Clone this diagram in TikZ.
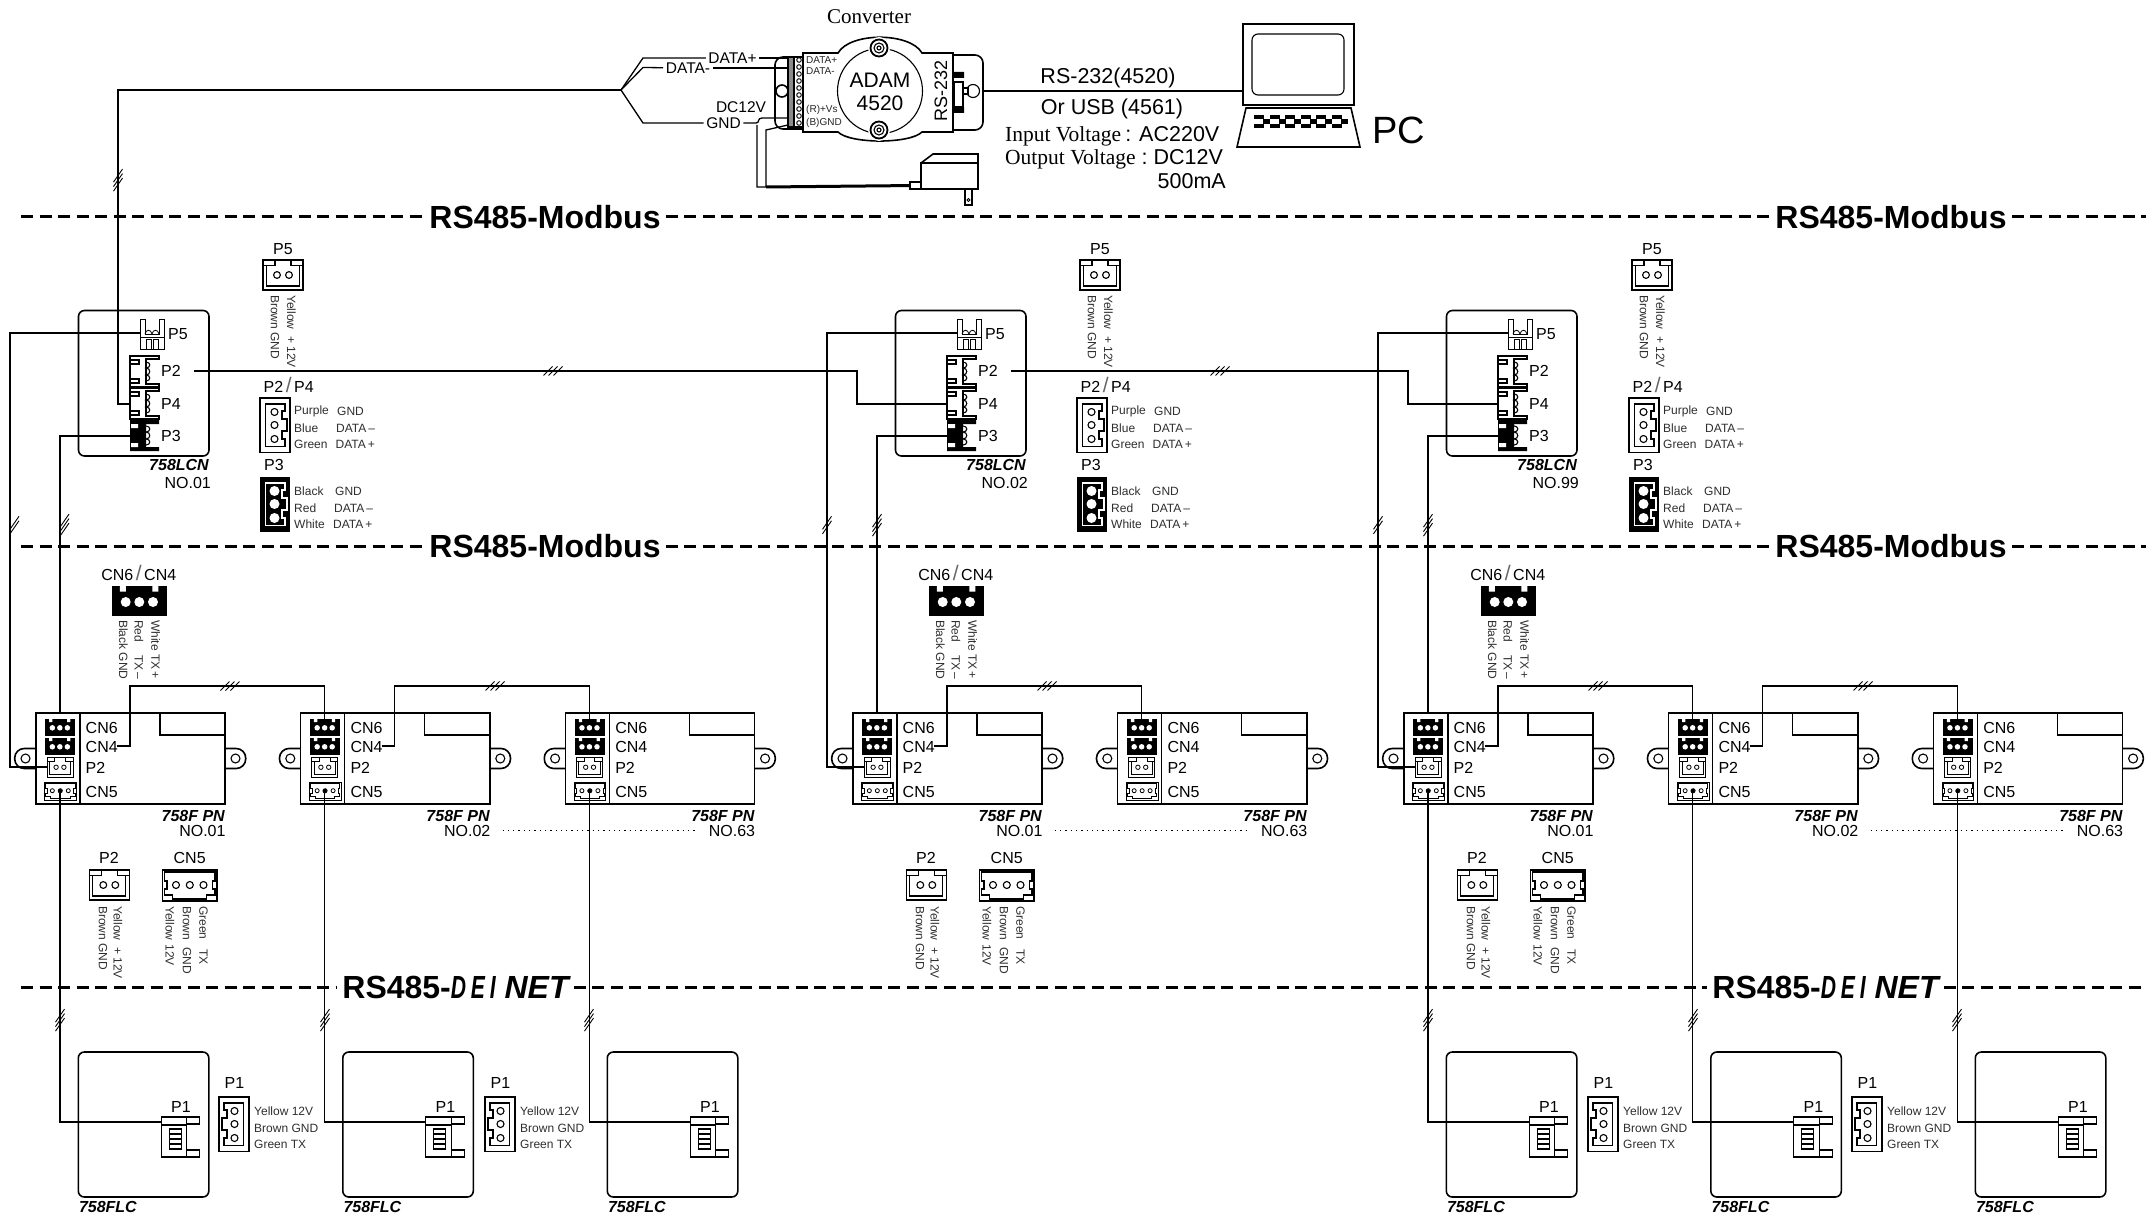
\documentclass[tikz,border=0pt]{standalone}
\usepackage{fontspec}
\setmainfont{Liberation Sans}
\newfontfamily\serfont{Liberation Serif}
\newfontfamily\deifont{Liberation Sans}[FakeStretch=0.66,LetterSpace=15]

\newcommand{\fsize}[1]{\fontsize{#1}{#1}\selectfont}
\newcommand{\thinslash}{\hspace{2.5pt}\textcolor{black!60}{\fsize{21}/}\hspace{2.5pt}}
% slashes across a cable
\newcommand{\tickv}[3]{\foreach \i in {1,...,#3}
  \draw[tickline] ({#1-4.5},{#2+6.5+(\i-1)*4.5-(#3-1)*2.2}) -- ++(9,-13);}
\newcommand{\tickh}[3]{\foreach \i in {1,...,#3}
  \draw[tickline] ({#1-4.5+(\i-1)*5-(#3-1)*2.5},{#2+4.5}) -- ++(9,-9);}

\tikzset{
  wire/.style={line width=1.3pt},
  tickline/.style={line width=.9pt},
  boxline/.style={line width=1.6pt},
  plugline/.style={line width=1.1pt},
  fineplug/.style={plugline/.style={line width=.8pt}},
  busline/.style={line width=3pt,dash pattern=on 12pt off 6.5pt},
  lbl/.style={inner sep=0pt,font=\fsize{16}},
  lblb/.style={inner sep=0pt,font=\fsize{16}\bfseries\itshape},
  leg/.style={inner sep=0pt,font=\fsize{12},text=black!82,anchor=west},
  legv/.style={inner sep=0pt,font=\fsize{12},text=black!82,anchor=west,rotate=-90},
  wirelbl/.style={inner sep=2.5pt,font=\fsize{15.5}},
  conv/.style={inner sep=0pt,font=\fsize{10},text=black!85,anchor=west},
  big/.style={inner sep=0pt,font=\fsize{21.5}},
  title/.style={inner sep=5pt,font=\fsize{32}\bfseries},
  % connectors
  pics/blackplug/.style={code={
    \fill (0,0) rectangle (54.5,30);
    \fill[white] (7.6,0) rectangle (13.6,5.5) (40,0) rectangle (46,5.5);
    \foreach \cx in {13.4,27,40.7} \fill[white] (\cx,16) circle (5pt);
  }},
  pics/plugtwo/.style={code={
    \draw[plugline,fill=white] (0,0) rectangle (40,30);
    \draw[plugline] (0,5.6) -- (12,5.6) -- (12,0) (28,0) -- (28,5.6) -- (40,5.6);
    \draw[plugline] (3.5,5.6) -- (3.5,26) -- (36.5,26) -- (36.5,5.6);
    \foreach \cx in {14,26} \draw[plugline] (\cx,15) circle (3.4pt);
  }},
  pics/plugwide/.style={code={
    \draw[plugline,fill=white] (0,0) rectangle (54.5,31);
    \draw[plugline] (2,2) -- (52.5,2) -- (52.5,11) -- (50,11) -- (50,19) -- (52.5,19) -- (52.5,25)
      -- (44,25) -- (44,29) -- (10,29) -- (10,25) -- (2,25) -- (2,19) -- (4.5,19) -- (4.5,11) -- (2,11) -- cycle;
    \foreach \cx in {13.5,27.3,41} \draw[plugline] (\cx,15) circle (3.5pt);
  }},
  pics/plugthree/.style={code={
    \draw[plugline,fill=white] (0,0) rectangle (30,54.5);
    \draw[plugline] (5.5,6) -- (25,6) -- (25,13) -- (22,13) -- (22,21) -- (27,21) -- (27,33) -- (22,33)
      -- (22,41) -- (25,41) -- (25,48.5) -- (5.5,48.5) -- cycle;
    \foreach \cy in {14,27,41} \draw[plugline] (14.5,\cy) circle (3.5pt);
  }},
  pics/plugthreeb/.style={code={
    \fill (0,0) rectangle (30,54.5);
    \draw[plugline,white] (5.5,6) -- (25,6) -- (25,13) -- (22,13) -- (22,21) -- (27,21) -- (27,33) -- (22,33)
      -- (22,41) -- (25,41) -- (25,48.5) -- (5.5,48.5) -- cycle;
    \foreach \cy in {14,27,41} \fill[white] (14.5,\cy) circle (5pt);
  }},
  pics/sideplug/.style={code={
    \draw[plugline,fill=white] (0,0) -- (29,0) -- (29,3) -- (16,3) -- (16,28) -- (29,28) -- (29,31) -- (0,31) -- cycle;
    \draw[plugline] (0,4) rectangle (9,8) (0,23) rectangle (9,27);
    \draw[plugline] (16,6) .. controls (21,6) and (21,12) .. (16,12) .. controls (21,12) and (21,19) .. (16,19)
      .. controls (21,19) and (21,25) .. (16,25);
  }},
  pics/sideplugb/.style={code={
    \fill (0,0) -- (29,0) -- (29,4) -- (16,4) -- (16,27) -- (29,27) -- (29,31) -- (0,31) -- cycle;
    \fill[white] (1,4) rectangle (8,8) (1,23) rectangle (8,27);
    \draw[plugline] (16,6) .. controls (21,6) and (21,12) .. (16,12) .. controls (21,12) and (21,19) .. (16,19)
      .. controls (21,19) and (21,25) .. (16,25);
  }},
  pics/topplug/.style={code={
    \draw[plugline,fill=white] (0,0) -- (5,0) -- (5,15) -- (19,15) -- (19,0) -- (24,0) -- (24,30) -- (0,30) -- cycle;
    \draw[plugline] (0,18) -- (24,18) (6,30) -- (6,20) -- (11,20) -- (11,30) (13,30) -- (13,20) -- (18,20) -- (18,30);
    \draw[plugline] (5,15) .. controls (6,10) and (11,10) .. (12,15) .. controls (13,10) and (18,10) .. (19,15);
  }},
  % controller with its four ports, #1 is its number
  pics/lcnbox/.style={code={
    \draw[boxline,rounded corners=6pt] (0,0) rectangle (130.5,145.5);
    \pic[fineplug] at (61.5,8.5) {topplug};
    \pic at (51.5,45.5) {sideplug};
    \pic at (51.5,77.5) {sideplug};
    \pic at (51.5,109.5) {sideplugb};
    \coordinate (-p5) at (61.5,22.5);
    \coordinate (-p2) at (115.5,60.5);
    \coordinate (-p2in) at (51.5,60.5);
    \coordinate (-p4) at (51.5,93.5);
    \coordinate (-p3) at (51.5,125.5);
    \node[lbl,anchor=west] (-lp5) at (89.5,24) {P5};
    \node[lbl,anchor=west] (-lp2) at (82.5,60.5) {P2};
    \node[lbl,anchor=west] (-lp4) at (82.5,93.5) {P4};
    \node[lbl,anchor=west] (-lp3) at (82.5,125.5) {P3};
    \node[lblb,anchor=east] (-type) at (130.5,154.5) {758LCN};
    \node[lbl,anchor=east] (-no) at (132.5,172) {#1};
  }},
  % its wiring table
  pics/lcnlegend/.style={code={
    \node[lbl] (-lp5) at (21,0) {P5};
    \pic at (1,11) {plugtwo};
    \node[legv] (-ya) at (29.5,46) {Yellow\hspace{7pt}+\hspace{3pt}12V};
    \node[legv] (-br) at (13,46) {Brown GND};
    \node[lbl,anchor=west] (-lp2) at (1.5,136) {P2\thinslash P4};
    \pic at (-2,149) {plugthree};
    \node[leg] (-a1) at (32,162) {Purple};
    \node[leg] (-a2) at (32,179) {Blue};
    \node[leg] (-a3) at (32,195) {Green};
    \node[leg] (-b1) at (75,162) {GND};
    \node[leg] (-b2) at (74,179) {DATA\,--};
    \node[leg] (-b3) at (73.5,195) {DATA\,+};
    \node[lbl,anchor=west] (-lp3) at (2,216) {P3};
    \pic at (-2,228) {plugthreeb};
    \node[leg] (-c1) at (32,242) {Black};
    \node[leg] (-c2) at (32,259) {Red};
    \node[leg] (-c3) at (32,275) {White};
    \node[leg] (-d1) at (73,242) {GND};
    \node[leg] (-d2) at (72,259) {DATA\,--};
    \node[leg] (-d3) at (71,275) {DATA\,+};
  }},
  pics/cnlegend/.style={code={
    \node[lbl] (-lab) at (26.5,-13) {CN6\thinslash CN4};
    \pic at (0,0) {blackplug};
    \node[legv] (-wh) at (43.4,34) {White TX\,+};
    \node[legv] (-re) at (26.7,34) {Red\hspace{13pt}TX\,--};
    \node[legv] (-bl) at (11,34) {Black GND};
  }},
  pics/lowlegend/.style={code={
    \node[lbl] (-lp2) at (19.7,0) {P2};
    \pic at (0,12) {plugtwo};
    \node[legv] (-ya) at (28.7,48) {Yellow\hspace{7pt}+\hspace{3pt}12V};
    \node[legv] (-br) at (13.7,48) {Brown GND};
    \node[lbl] (-lc5) at (100.4,0) {CN5};
    \pic at (73.2,12) {plugwide};
    \node[legv] (-gr) at (114.3,48) {Green\hspace{10pt}TX};
    \node[legv] (-bw) at (97.7,48) {Brown\hspace{7pt}GND};
    \node[legv] (-yw) at (80.7,48) {Yellow\hspace{4pt}12V};
  }},
  pics/flclegend/.style={code={
    \node[lbl] (-lab) at (16.4,-14) {P1};
    \pic[xscale=-1] at (31,0) {plugthree};
    \node[leg] (-a) at (36,14) {Yellow 12V};
    \node[leg] (-b) at (36,31) {Brown GND};
    \node[leg] (-c) at (36,47) {Green TX};
  }},
  % converter board, #1 is its number
  pics/cnbox/.style={code={
    \draw[boxline,rounded corners=9.5pt,fill=white] (12,35.5) -- (-21,35.5) -- (-21,55.5) -- (12,55.5);
    \draw[boxline,rounded corners=9.5pt,fill=white] (177,35.5) -- (210,35.5) -- (210,55.5) -- (177,55.5);
    \draw[plugline] (-10.2,45.5) circle (4.5pt) (199.8,45.5) circle (4.5pt);
    \draw[boxline,fill=white] (0,0) rectangle (189.3,91);
    \draw[plugline] (44.3,0) -- (44.3,91) (124.3,0) -- (124.3,22) -- (189.3,22);
    \pic[scale=.55] at (9.3,6) {blackplug};
    \pic[scale=.55] at (9.3,25) {blackplug};
    \pic[scale=.65,fineplug] at (11.3,44.5) {plugtwo};
    \pic[scale=.58,fineplug] at (8.8,69) {plugwide};
    \coordinate (-top) at (24.3,0);
    \coordinate (-cn6) at (24.3,6);
    \coordinate (-cn4) at (81.3,33);
    \coordinate (-rise) at (94.3,-27);
    \coordinate (-p2) at (11.3,54);
    \coordinate (-cn5) at (24.3,78);
    \node[lbl,anchor=west] (-l6) at (49.8,14.5) {CN6};
    \node[lbl,anchor=west] (-l4) at (49.8,33.5) {CN4};
    \node[lbl,anchor=west] (-l2) at (49.8,54.5) {P2};
    \node[lbl,anchor=west] (-l5) at (49.8,78.5) {CN5};
    \node[lblb,anchor=east] (-type) at (189.3,102.7) {758F PN};
    \node[lbl,anchor=east] (-no) at (190,117.7) {#1};
  }},
  % field controller
  pics/flcbox/.style={code={
    \draw[boxline,rounded corners=6pt] (0,0) rectangle (130.5,145);
    \node[lblb,anchor=west] (-type) at (.5,155) {758FLC};
    \node[lbl] (-lab) at (102.7,55) {P1};
    \draw[plugline,fill=white] (83,65) rectangle (108.3,105);
    \draw[plugline,fill=white] (108.3,65) rectangle (121.3,72) (108.3,98) rectangle (121.3,105);
    \draw[plugline] (83,73) -- (108.3,73);
    \draw[plugline] (91,77) rectangle (103,97) (91,82) -- (103,82) (91,87) -- (103,87) (91,92) -- (103,92);
    \coordinate (-p1) at (83,70);
  }},
}

\begin{document}
\begin{tikzpicture}[x=1pt,y=-1pt]
  \useasboundingbox (0,0) rectangle (2152,1217);

  % bus titles and dashed lines
  \foreach \r/\ry in {a/217,b/546}{
    \node[title] (tl\r) at (545,\ry) {RS485-Modbus};
    \node[title] (tr\r) at (1891,\ry) {RS485-Modbus};
    \coordinate (bs\r) at (21,\ry);
    \coordinate (be\r) at (2146,\ry);
    \draw[busline] (bs\r) -- (tl\r);
    \draw[busline] (tl\r) -- (tr\r);
    \draw[busline] (tr\r) -- (be\r);
  }
  \node[title] (tlc) at (455.5,987) {RS485-{\deifont\itshape DEI} {\itshape NET}};
  \node[title] (trc) at (1825.5,987) {RS485-{\deifont\itshape DEI} {\itshape NET}};
  \coordinate (bsc) at (21,987);
  \coordinate (bec) at (2146,987);
  \draw[busline] (bsc) -- (tlc);
  \draw[busline] (tlc) -- (trc);
  \draw[busline] (trc) -- (bec);

  % controllers and their tables
  \foreach \gr/\gx/\nm in {1/0/NO.01,2/817/NO.02,3/1368/NO.99}{
    \pic (lcn\gr) at (78.5+\gx,310.5) {lcnbox=\nm};
    \coordinate (drop\gr) at (10+\gx,540);
  }
  \foreach \gr/\gx in {1/0,2/817,3/1369}{
    \pic (lleg\gr) at (262+\gx,249) {lcnlegend};
    \pic (cleg\gr) at (112.3+\gx,586) {cnlegend};
  }
  \foreach \gr/\gx in {1/0,2/817,3/1368}
    \pic (dleg\gr) at (89.3+\gx,858) {lowlegend};

  % converter boards
  \foreach \bd/\bx/\nm in {1a/35.7/NO.01,1b/300.5/NO.02,1c/565.3/NO.63,
      2a/852.7/NO.01,2b/1117.5/NO.63,
      3a/1403.7/NO.01,3b/1668.5/NO.02,3c/1933.3/NO.63}
    \pic (cn\bd) at (\bx,713) {cnbox=\nm};

  % field controllers
  \foreach \fc/\fx in {1a/78.3,1b/342.8,1c/607.3,3a/1446.3,3b/1710.8,3c/1975.3}
    \pic (flc\fc) at (\fx,1052) {flcbox};
  \foreach \fl/\fx in {a/218,b/484,c/1587,d/1851}
    \pic (fleg\fl) at (\fx,1097) {flclegend};

  % cables between the groups
  \foreach \gr in {1,2,3}{
    \draw[wire] (lcn\gr-p5) -| (drop\gr) |- (cn\gr a-p2);
    \draw[wire] (lcn\gr-p3) -| (cn\gr a-top);
    \tickv{\gr==1 ? 10 : (\gr==2 ? 827 : 1378)}{525}{2}
    \tickv{\gr==1 ? 60 : (\gr==2 ? 877 : 1428)}{525}{3}
  }
  \draw[wire] (lcn1-p2) -- ++(663,0) coordinate (sub2) -- (sub2 |- lcn2-p4) -- (lcn2-p4);
  \draw[wire] (lcn2-p2) -- ++(397,0) coordinate (sub3) -- (sub3 |- lcn3-p4) -- (lcn3-p4);
  \tickh{553}{371}{3}
  \tickh{1220}{371}{3}

  % cables along the boards
  \foreach \fm/\to/\tx in {1a/1b/230,1b/1c/495,2a/2b/1047,3a/3b/1598,3b/3c/1863}{
    \draw[wire] (cn\fm-cn4) -| (cn\fm-rise) -| (cn\to-cn6);
    \tickh{\tx}{686}{3}
  }
  \foreach \fc/\tx in {1a/60,1b/325,1c/589,3a/1428,3b/1693,3c/1957}{
    \draw[wire] (cn\fc-cn5) |- (flc\fc-p1);
    \fill (cn\fc-cn5) circle (2.2pt);
    \tickv{\tx}{1020}{3}
  }
  \draw[plugline,dash pattern=on 1.3pt off 4pt,shorten <=12pt,shorten >=14pt] (cn1b-no) -- (cn1c-no);
  \draw[plugline,dash pattern=on 1.3pt off 4pt,shorten <=12pt,shorten >=14pt] (cn2a-no) -- (cn2b-no);
  \draw[plugline,dash pattern=on 1.3pt off 4pt,shorten <=12pt,shorten >=14pt] (cn3b-no) -- (cn3c-no);

  % ADAM box
  \node[font=\fsize{21},inner sep=0pt] (conv) at (869,17) {\serfont Converter};
  \draw[boxline,rounded corners=8pt,fill=white] (803,57) -- (775,57) -- (775,129) -- (803,129);
  \draw[boxline,fill=white] (782,91) circle (6pt);
  \draw[boxline,rounded corners=8pt,fill=white] (953,55) -- (983,55) -- (983,130) -- (953,130);
  \draw[plugline,fill=white] (973,91) circle (6.5pt);
  \draw[plugline,fill=white] (963,88) rectangle (968,94);
  \draw[plugline,fill=white] (954,82) rectangle (963,107);
  \fill (954,72) rectangle (964,78) (954,107) rectangle (964,113);
  \draw[plugline,fill=black!45] (788,57) rectangle (794,127);
  \draw[plugline,fill=white] (794,57) rectangle (803,127);
  \foreach \cy in {60,67,74,81,88,95,102,109,116,123}
    \draw[line width=.9pt] (799,\cy) circle (2.3pt);
  \draw[boxline,fill=white] (803,53) -- (838,53) .. controls (850,32) and (910,32) .. (922,53) -- (953,53) -- (953,132)
    -- (922,132) .. controls (910,144) and (850,144) .. (838,132) -- (803,132) -- cycle;
  \draw[plugline] (880,91) circle (42.5pt);
  \foreach \cy in {48,130}{
    \fill[white] (879,\cy) circle (11pt);
    \draw[line width=1.8pt] (879,\cy) circle (8.5pt);
    \draw[plugline] (879,\cy) circle (5pt);
    \draw[plugline] (879,\cy) circle (2pt);
  }
  \node[inner sep=0pt,font=\fsize{21}] (adam) at (880,80) {ADAM};
  \node[inner sep=0pt,font=\fsize{21}] (adamb) at (880,103) {4520};
  \node[inner sep=0pt,font=\fsize{18},rotate=90] (rstwo) at (941,91) {RS-232};
  \node[conv] (cda) at (806,60) {DATA+};
  \node[conv] (cdb) at (806,71) {DATA-};
  \node[conv] (cdc) at (806,110) {(R)+Vs};
  \node[conv] (cdd) at (806,123) {(B)GND};
  \coordinate (tdp) at (788,60);
  \coordinate (tdm) at (788,67);
  \coordinate (tgn) at (788,118);
  \coordinate (tvs) at (788,125);

  % field wires into the ADAM box
  \coordinate (trunk) at (118,90);
  \coordinate (fan) at (621,90);
  \node[wirelbl] (datap) at (732.5,58) {DATA+};
  \node[wirelbl] (datam) at (688,68) {DATA-};
  \node[wirelbl] (gnd) at (723.5,123) {GND};
  \node[inner sep=0pt,font=\fsize{15.5}] (dctw) at (741,107) {DC12V};
  \draw[wire] (lcn1-p4) -| (trunk) -- (fan);
  \tickv{118}{180}{3}
  \draw[wire] (fan) -- (643,58) -- (datap);
  \draw[wire] (fan) -- (643,67.5) -- (datam);
  \draw[wire] (fan) -- (643,123) -- (gnd);
  \draw[wire] (datap) -- (tdp |- datap);
  \draw[wire] (datam) -- (tdm |- datam);
  \draw[wire] (gnd) -- (756,123) .. controls (760,123) and (757,118) .. (762,118) -- (tgn);

  % power adapter
  \node[draw,plugline,inner sep=0pt,minimum width=11pt,minimum height=7pt] (plug) at (915.5,185.5) {};
  \draw[boxline] (921,163) -- (978,163) -- (978,189) -- (921,189) -- cycle (921,163) -- (933,154) -- (978,154) -- (978,163);
  \draw[plugline,fill=white] (965,189) rectangle (972,205);
  \draw[line width=.8pt] (968.5,200) circle (1.5pt);
  \coordinate (hooka) at (757,125);
  \coordinate (hookb) at (766,130);
  \coordinate (hookc) at (766,187);
  \draw[wire] (hooka) |- (hookc) -- (hookb) -- (tvs);
  \draw[line width=3pt] (hookc) -- (plug);

  % PC
  \node[draw,boxline,inner sep=0pt,minimum width=111pt,minimum height=81pt] (monitor) at (1298.5,64.5) {};
  \draw[plugline,rounded corners=6pt] (1252,34) rectangle (1344,95);
  \coordinate (convout) at (983,91);
  \draw[wire] (convout) -- (convout -| monitor.west);
  \draw[boxline] (1246,108) -- (1351,108) -- (1360,147) -- (1237,147) -- cycle;
  \foreach \k in {0,...,5}{
    \fill ({1254+\k*15.6},115) rectangle ++(10,4);
    \fill ({1254+\k*15.6},124) rectangle ++(10,4);
    \fill ({1254+\k*15.6+9},119) rectangle ++(7,5);
  }
  \node[inner sep=0pt,font=\fsize{38}] (pc) at (1398.5,130) {PC};
  \node[big] (rsa) at (1108,78) {RS-232(4520)};
  \node[big] (rsb) at (1112,108.5) {Or USB (4561)};
  \node[big,anchor=west] (inv) at (1005,136) {{\serfont Input Voltage}\hspace{4pt}:\hspace{8pt}AC220V};
  \node[big,anchor=west] (outv) at (1005,159.5) {{\serfont Output Voltage}\hspace{6pt}:\hspace{6pt}DC12V};
  \node[big,anchor=east] (ma) at (1226,181) {500mA};
\end{tikzpicture}
\end{document}
